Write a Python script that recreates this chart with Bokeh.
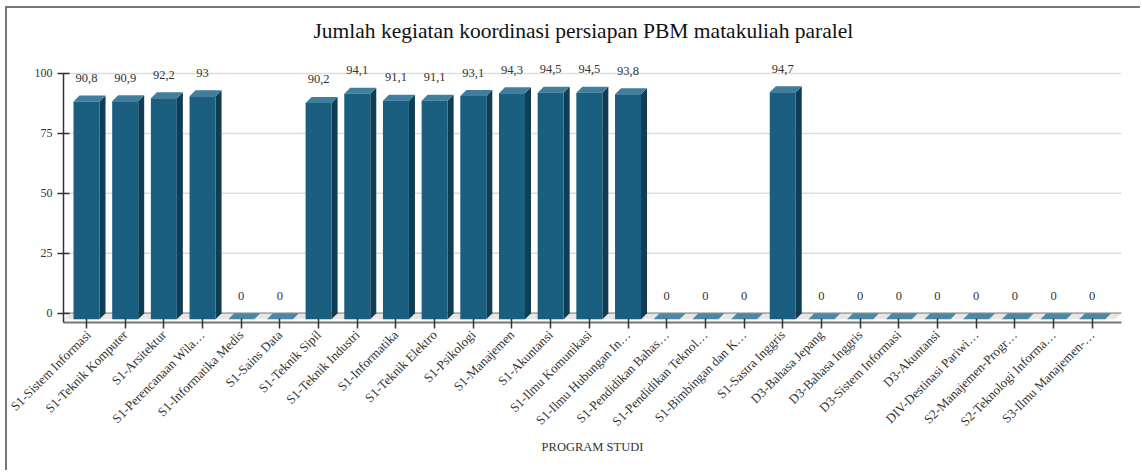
import numpy as np
from bokeh.plotting import figure
from bokeh.models import ColumnDataSource, Range1d, FixedTicker, LabelSet
from bokeh.embed import file_html
from bokeh.resources import INLINE

# ---------------- data ----------------
programs = [
    "S1-Sistem Informasi", "S1-Teknik Komputer", "S1-Arsitektur", "S1-Perencanaan Wila\u2026",
    "S1-Informatika Medis", "S1-Sains Data", "S1-Teknik Sipil", "S1-Teknik Industri",
    "S1-Informatika", "S1-Teknik Elektro", "S1-Psikologi", "S1-Manajemen",
    "S1-Akuntansi", "S1-Ilmu Komunikasi", "S1-Ilmu Hubungan In\u2026", "S1-Pendidikan Bahas\u2026",
    "S1-Pendidikan Teknol\u2026", "S1-Bimbingan dan K\u2026", "S1-Sastra Inggris", "D3-Bahasa Jepang",
    "D3-Bahasa Inggris", "D3-Sistem Informasi", "D3-Akuntansi", "DIV-Destinasi Pariwi\u2026",
    "S2-Manajemen-Progr\u2026", "S2-Teknologi Informa\u2026", "S3-Ilmu Manajemen-\u2026",
]
values = [90.8, 90.9, 92.2, 93, 0, 0, 90.2, 94.1, 91.1, 91.1, 93.1, 94.3, 94.5, 94.5,
          93.8, 0, 0, 0, 94.7, 0, 0, 0, 0, 0, 0, 0, 0]
y_ticks = [0, 25, 50, 75, 100]
title_text = "Jumlah kegiatan koordinasi persiapan PBM matakuliah paralel"
x_title = "PROGRAM STUDI"

# ---------------- geometry / style ----------------
W, H = 1135, 464
X_START, X_END = -0.595, 26.758
Y_START, Y_END = -3.88, 108.76
PX_X = 1058 / (X_END - X_START)
PX_Y = 270 / (Y_END - Y_START)
DX = 6 / PX_X          # depth offset in x data units
DY = 6 / PX_Y          # depth offset in y data units
HW = 0.336             # half width of front face

FRONT = "#1a5e80"
SIDE = "#0e3d55"
TOP = "#3f7e9c"
FLAT = "#4a88a6"
SERIF = "Liberation Serif"

p = figure(width=W, height=H, output_backend="svg", toolbar_location=None,
           x_range=Range1d(X_START, X_END), y_range=Range1d(Y_START, Y_END),
           min_border_left=56, min_border_right=21, min_border_top=44, min_border_bottom=150)
p.margin = (6, 0, 0, 5)
p.styles = {"border-left": "2px solid #777777", "border-top": "2px solid #777777"}
p.outline_line_color = None
p.xgrid.visible = False
p.ygrid.visible = False
p.background_fill_color = "white"
p.border_fill_color = "white"

# title
p.title.text = title_text
p.title.align = "left"
p.title.offset = 250
p.title.vertical_align = "top"
p.title.text_font = SERIF
p.title.text_font_size = "21.5px"
p.title.text_font_style = "normal"
p.title.text_color = "#111111"
p.title.standoff = 16

# grid lines (back wall)
p.segment(x0=[X_START] * len(y_ticks), x1=[X_END] * len(y_ticks), y0=y_ticks, y1=y_ticks,
          line_color=["#aaaaaa"] + ["#dddddd"] * (len(y_ticks) - 1), line_width=1.5)

# floor
p.patch([X_START, X_END - DX, X_END, X_START + DX], [-DY, -DY, 0, 0],
        fill_color="#e6e6e6", line_color=None)
p.segment(x0=[X_START], x1=[X_END], y0=[0], y1=[0], line_color="#aaaaaa", line_width=1.5)

# bars
idx = list(range(len(values)))
pos = [(i, v) for i, v in zip(idx, values) if v > 0]
side_xs = [[i + HW, i + HW + DX, i + HW + DX, i + HW] for i, v in pos]
side_ys = [[-DY, 0, v, v - DY] for i, v in pos]
top_xs = [[i - HW, i + HW, i + HW + DX, i - HW + DX] for i, v in zip(idx, values)]
top_ys = [[v - DY, v - DY, v, v] for i, v in zip(idx, values)]
top_cols = [TOP if v > 0 else FLAT for v in values]

p.patches(side_xs, side_ys, fill_color=SIDE, line_color=None)
p.patches(top_xs, top_ys, fill_color=top_cols, line_color=None)
p.vbar(x=[i for i, v in pos], width=2 * HW, top=[v - DY for i, v in pos], bottom=-DY,
       fill_color=FRONT, line_color=None)

# value labels
lab_src = ColumnDataSource(dict(x=idx, y=values,
                                t=[("%g" % v).replace(".", ",") for v in values]))
p.add_layout(LabelSet(x="x", y="y", text="t", source=lab_src, y_offset=17.5,
                      text_align="center", text_baseline="middle",
                      text_font=SERIF, text_font_size="12.5px", text_color="#333333"))

# axes
xa = p.xaxis[0]
xa.ticker = FixedTicker(ticks=idx)
xa.major_label_overrides = {i: n for i, n in zip(idx, programs)}
xa.major_label_orientation = np.pi / 4
xa.major_label_text_font = SERIF
xa.major_label_text_font_size = "13px"
xa.major_label_text_color = "#333333"
xa.major_label_standoff = 4
xa.major_tick_in = 4
xa.major_tick_out = 6
xa.major_tick_line_color = "#333333"
xa.major_tick_line_width = 1.5
xa.minor_tick_line_color = None
xa.axis_line_color = "#777777"
xa.axis_line_width = 2
xa.axis_label = x_title
xa.axis_label_text_font = SERIF
xa.axis_label_text_font_size = "12.5px"
xa.axis_label_text_font_style = "normal"
xa.axis_label_text_color = "#333333"
xa.axis_label_standoff = 3

ya = p.yaxis[0]
ya.ticker = FixedTicker(ticks=y_ticks)
ya.bounds = (Y_START, 100)
ya.major_label_text_font = SERIF
ya.major_label_text_font_size = "12px"
ya.major_label_text_color = "#333333"
ya.major_label_standoff = 5
ya.major_tick_in = 6
ya.major_tick_out = 6
ya.major_tick_line_color = "#333333"
ya.major_tick_line_width = 1.5
ya.minor_tick_line_color = None
ya.axis_line_color = "#333333"
ya.axis_line_width = 1.5

open("out.html", "w").write(file_html(p, INLINE))
